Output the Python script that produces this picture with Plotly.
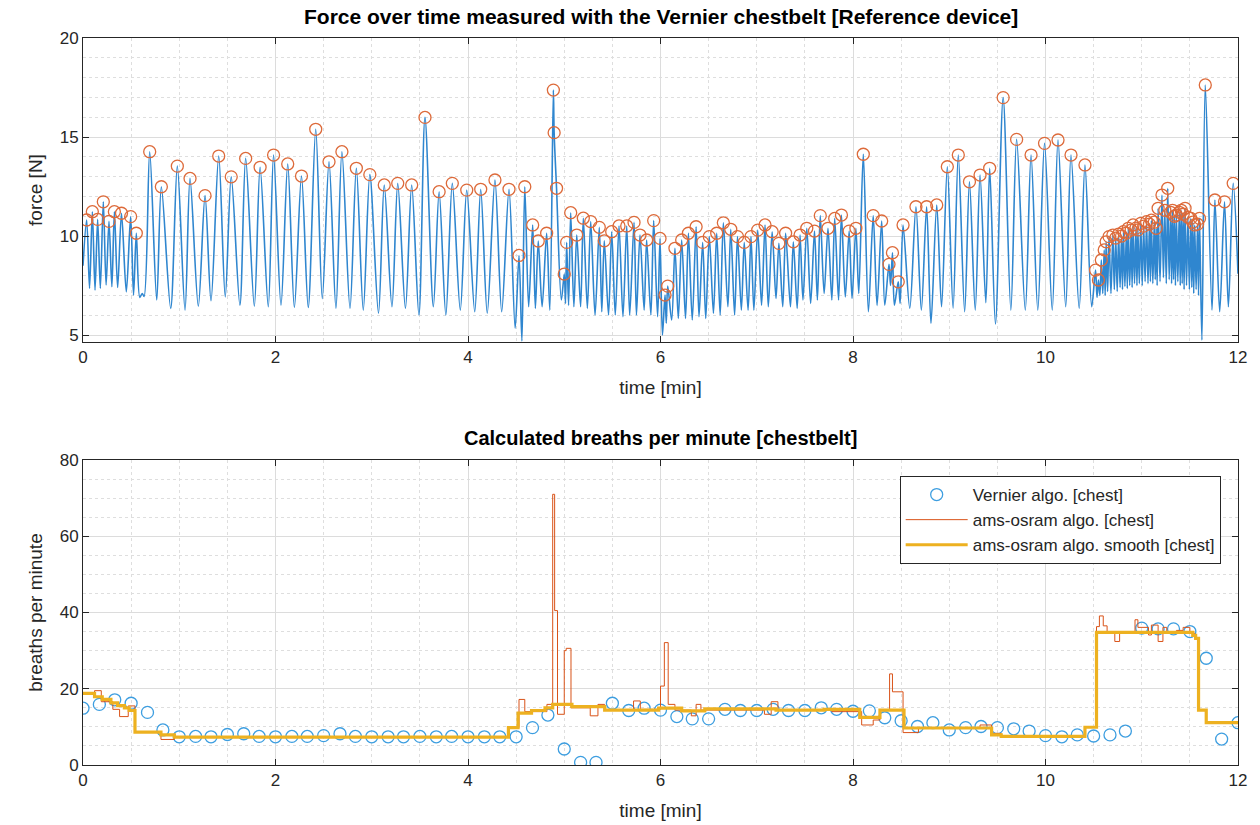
import plotly.graph_objects as go

# ---------------- Top chart: force signal (peaks and valleys) ----------------
peak_t = [0.038, 0.097, 0.152, 0.211, 0.27, 0.326, 0.40, 0.495, 0.554, 0.693, 0.814, 0.98, 1.112, 1.268,
          1.41, 1.54, 1.69, 1.84, 1.98, 2.127, 2.27, 2.418, 2.556, 2.69, 2.84, 2.98, 3.13, 3.27, 3.415,
          3.553, 3.70, 3.837, 3.987, 4.132, 4.28, 4.426, 4.53, 4.59, 4.672, 4.73, 4.817, 4.887, 4.895,
          4.92, 5.0, 5.025, 5.067, 5.13, 5.198, 5.275, 5.364, 5.416, 5.493, 5.569, 5.649, 5.725, 5.787,
          5.856, 5.929, 5.995, 6.047, 6.075, 6.15, 6.22, 6.29, 6.37, 6.438, 6.507, 6.584, 6.653, 6.73,
          6.80, 6.87, 6.94, 7.01, 7.086, 7.16, 7.23, 7.30, 7.38, 7.45, 7.52, 7.60, 7.66, 7.74, 7.81, 7.88,
          7.96, 8.03, 8.107, 8.21, 8.298, 8.374, 8.41, 8.47, 8.52, 8.654, 8.765, 8.87, 8.98, 9.094, 9.21,
          9.32, 9.42, 9.56, 9.70, 9.85, 9.99, 10.13, 10.265, 10.41,
          10.52, 10.55, 10.58, 10.61, 10.63, 10.66, 10.70, 10.73, 10.76, 10.79, 10.81, 10.84, 10.86,
          10.89, 10.91, 10.94, 10.96, 10.99, 11.02, 11.05, 11.08, 11.10, 11.13, 11.15, 11.17, 11.21,
          11.24, 11.27, 11.30, 11.32, 11.34, 11.36, 11.39, 11.41, 11.43, 11.45, 11.48, 11.51, 11.53,
          11.55, 11.58, 11.60, 11.66, 11.76, 11.86, 11.95]
peak_v = [10.81, 11.23, 10.84, 11.73, 10.74, 11.23, 11.15, 10.98, 10.14, 14.26, 12.49, 13.53, 12.91, 12.04,
          14.04, 12.99, 13.92, 13.47, 14.09, 13.64, 13.03, 15.39, 13.75, 14.26, 13.42, 13.10, 12.58, 12.66,
          12.58, 15.99, 12.24, 12.66, 12.32, 12.36, 12.83, 12.36, 9.02, 12.49, 10.56, 9.75, 10.14, 17.37,
          15.22, 12.41, 8.08, 9.68, 11.18, 10.05, 10.90, 10.73, 10.44, 9.76, 10.22, 10.51, 10.51, 10.69,
          10.05, 9.80, 10.78, 9.88, 7.02, 7.47, 9.38, 9.80, 10.14, 10.47, 9.68, 9.97, 10.14, 10.67, 10.34,
          9.97, 9.68, 9.97, 10.30, 10.56, 10.22, 9.63, 10.14, 9.71, 10.05, 10.39, 10.25, 11.03, 10.39,
          10.89, 11.06, 10.25, 10.39, 14.13, 11.03, 10.76, 8.57, 9.16, 7.69, 10.56, 11.48, 11.48, 11.57,
          13.50, 14.09, 12.74, 13.08, 13.42, 16.99, 14.88, 14.09, 14.68, 14.85, 14.09, 13.59,
          8.28, 7.78, 8.79, 9.30, 9.71, 9.97, 10.05, 9.90, 10.10, 10.00, 10.22, 10.15, 10.39,
          10.30, 10.56, 10.40, 10.31, 10.64, 10.50, 10.73, 10.60, 10.80, 10.70, 10.39, 11.40, 12.07,
          11.30, 12.41, 11.20, 11.30, 11.00, 11.06, 11.20, 11.30, 11.10, 11.40, 10.95, 10.89, 10.70,
          10.56, 10.60, 10.89, 17.63, 11.82, 11.73, 12.66]

valley_t = [0.0, 0.068, 0.125, 0.18, 0.24, 0.30, 0.36, 0.45, 0.525, 0.59, 0.615, 0.635, 0.766, 0.911, 1.06,
            1.198, 1.33, 1.478, 1.63, 1.78, 1.925, 2.057, 2.196, 2.34, 2.486, 2.628, 2.774, 2.912, 3.07,
            3.21, 3.35, 3.49, 3.64, 3.77, 3.92, 4.07, 4.20, 4.35, 4.49, 4.56, 4.63, 4.70, 4.77, 4.85, 4.97,
            5.013, 5.045, 5.10, 5.17, 5.24, 5.32, 5.39, 5.46, 5.53, 5.61, 5.68, 5.75, 5.83, 5.90, 5.97,
            6.02, 6.06, 6.116, 6.185, 6.26, 6.33, 6.40, 6.47, 6.55, 6.62, 6.70, 6.77, 6.84, 6.91, 6.97,
            7.05, 7.12, 7.20, 7.27, 7.35, 7.42, 7.48, 7.56, 7.63, 7.70, 7.78, 7.85, 7.92, 7.99, 8.06, 8.16,
            8.25, 8.33, 8.39, 8.43, 8.49, 8.59, 8.71, 8.81, 8.92, 9.04, 9.16, 9.27, 9.38, 9.48, 9.64, 9.79,
            9.92, 10.07, 10.21, 10.35, 10.48,
            10.535, 10.565, 10.595, 10.62, 10.645, 10.68, 10.715, 10.745, 10.775, 10.80, 10.825, 10.85,
            10.875, 10.90, 10.925, 10.95, 10.975, 11.005, 11.035, 11.065, 11.09, 11.115, 11.14, 11.16,
            11.19, 11.225, 11.255, 11.285, 11.31, 11.33, 11.35, 11.375, 11.40, 11.42, 11.44, 11.465,
            11.495, 11.52, 11.54, 11.565, 11.59, 11.625, 11.73, 11.81, 11.90, 12.0]
valley_v = [8.5, 7.36, 7.27, 7.36, 7.53, 7.44, 7.40, 7.18, 7.02, 6.9, 7.1, 6.95, 6.77, 6.35, 6.26,
            6.46, 6.73, 6.93, 6.51, 6.46, 6.43, 6.51, 6.39, 6.39, 6.85, 6.35, 6.35, 6.26, 6.10,
            6.43, 6.35, 6.01, 6.43, 6.01, 6.26, 6.18, 6.10, 6.18, 5.35, 4.70, 6.43, 6.35, 6.43, 6.26, 6.77,
            6.60, 6.50, 6.43, 6.43, 6.35, 6.01, 6.18, 6.01, 6.01, 5.93, 6.01, 6.01, 6.26, 6.01, 5.93,
            5.00, 5.60, 5.76, 5.84, 5.84, 5.76, 5.93, 5.84, 6.10, 6.01, 6.43, 6.01, 6.26, 6.26, 6.26,
            6.51, 6.43, 6.85, 6.43, 6.43, 6.35, 6.77, 6.60, 6.77, 7.10, 6.77, 6.77, 6.93, 6.85, 7.10, 6.18,
            6.50, 6.51, 7.50, 6.51, 6.60, 6.35, 6.26, 5.59, 6.43, 6.36, 6.18, 6.26, 6.64, 5.56, 6.26, 6.26,
            6.26, 6.26, 6.43, 6.35, 6.43,
            6.9, 7.0, 7.1, 7.0, 7.2, 7.1, 7.3, 7.2, 7.4, 7.3, 7.45, 7.35,
            7.5, 7.4, 7.6, 7.5, 7.6, 7.5, 7.7, 7.6, 7.7, 7.6, 7.8, 7.5,
            7.7, 7.9, 7.6, 7.8, 7.6, 7.8, 7.5, 7.7, 7.5, 7.6, 7.3, 7.5,
            7.3, 7.4, 7.1, 7.3, 7.0, 4.75, 6.26, 6.18, 6.43, 8.1]

# ---------------- Bottom chart: breaths per minute ----------------
vern_t = [0.00, 0.17, 0.33, 0.50, 0.67, 0.83, 1.00, 1.17, 1.33, 1.50, 1.67, 1.83, 2.00, 2.17, 2.33, 2.50,
          2.67, 2.83, 3.00, 3.17, 3.33, 3.50, 3.67, 3.83, 4.00, 4.17, 4.33, 4.50, 4.67, 4.83, 5.00, 5.17,
          5.33, 5.50, 5.67, 5.83, 6.00, 6.17, 6.33, 6.50, 6.67, 6.83, 7.00, 7.17, 7.33, 7.50, 7.67, 7.83,
          8.00, 8.17, 8.33, 8.50, 8.67, 8.83, 9.00, 9.17, 9.33, 9.50, 9.67, 9.83, 10.00, 10.17, 10.33,
          10.50, 10.67, 10.83, 11.00, 11.17, 11.33, 11.50, 11.67, 11.83, 12.00]
vern_v = [14.9, 15.9, 17.1, 16.2, 13.8, 9.2, 7.4, 7.5, 7.4, 8.0, 8.2, 7.5, 7.4, 7.5, 7.5, 7.7,
          8.2, 7.5, 7.4, 7.4, 7.4, 7.5, 7.4, 7.5, 7.4, 7.4, 7.4, 7.4, 9.8, 13.1, 4.2, 0.7,
          0.7, 16.2, 14.3, 14.9, 14.4, 12.7, 12.1, 12.1, 14.6, 14.3, 14.3, 14.6, 14.3, 14.3, 15.0, 14.6,
          14.1, 14.2, 12.4, 11.6, 10.1, 11.1, 9.2, 9.8, 10.1, 9.8, 9.5, 8.9, 7.7, 7.4, 7.9,
          7.6, 7.9, 8.9, 35.9, 35.7, 35.7, 35.0, 28.0, 6.8, 11.1]

raw_t = [0.00, 0.12, 0.19, 0.31, 0.38, 0.47, 0.54, 0.81, 0.95, 4.42, 4.53, 4.59, 4.82, 4.88, 4.90, 4.93,
         5.00, 5.02, 5.07, 5.27, 5.35, 5.42, 5.72, 5.79, 6.00, 6.04, 6.08, 6.15, 6.32, 6.37, 6.42, 7.08,
         7.15, 7.22, 7.78, 8.09, 8.21, 8.28, 8.38, 8.41, 8.52, 8.68, 9.32, 9.44, 9.54, 10.41, 10.53,
         10.56, 10.60, 10.64, 10.72, 10.77, 10.93, 10.96, 11.07, 11.10, 11.17, 11.22, 11.26, 11.36,
         11.43, 11.50, 11.55, 11.59, 11.67, 12.00]
raw_v = [18.6, 19.5, 16.6, 14.6, 12.7, 15.5, 8.6, 6.7, 7.3, 9.8, 17.2, 14.0, 15.9, 71.0, 40.5, 13.3,
         30.0, 30.6, 15.0, 12.9, 15.9, 14.4, 16.8, 14.6, 20.7, 32.1, 15.9, 14.4, 12.9, 15.9, 14.4, 13.3,
         16.6, 14.4, 14.0, 10.5, 11.8, 14.4, 23.9, 19.2, 8.5, 9.7, 10.5, 8.3, 7.6, 9.9, 36.3,
         39.1, 36.5, 35.0, 32.4, 35.0, 38.1, 36.1, 34.1, 36.7, 32.4, 36.1, 34.6, 35.3,
         36.1, 34.6, 33.2, 14.4, 11.4, 11.4]

smooth_t = [0.00, 0.12, 0.20, 0.29, 0.36, 0.43, 0.48, 0.54, 0.81, 0.95, 4.42, 4.52, 4.66, 4.80, 4.88, 5.08,
            5.42, 5.98, 6.22, 6.46, 7.20, 7.70, 8.07, 8.28, 8.53, 9.44, 9.54, 10.41, 10.53, 11.53, 11.56,
            11.59, 11.67, 12.00]
smooth_v = [18.8, 17.9, 17.2, 16.3, 15.6, 15.0, 14.3, 8.6, 7.9, 7.3, 9.8, 13.6, 14.3, 15.0, 15.9, 15.3,
            14.4, 14.9, 14.2, 14.7, 14.4, 14.6, 12.5, 14.4, 9.7, 7.9, 7.5, 9.9, 34.8, 34.0, 33.2,
            14.4, 11.1, 11.1]

top_title = "Force over time measured with the Vernier chestbelt [Reference device]"
bottom_title = "Calculated breaths per minute [chestbelt]"

# merge peaks and valleys into one time-ordered polyline
samples = sorted(list(zip(peak_t, peak_v)) + list(zip(valley_t, valley_v)))
force_t = [s[0] for s in samples]
force_v = [s[1] for s in samples]

FONT = "Liberation Sans, Arial, sans-serif"
AX = "#262626"

fig = go.Figure()
fig.add_trace(go.Scatter(x=force_t, y=force_v, mode="lines",
                         line=dict(color="#2f86cf", width=1.6, shape="spline", smoothing=0.9),
                         xaxis="x", yaxis="y", showlegend=False, hoverinfo="skip"))
fig.add_trace(go.Scatter(x=peak_t, y=peak_v, mode="markers",
                         marker=dict(symbol="circle-open", size=12, color="#DD6a3a", line=dict(width=1.3)),
                         xaxis="x", yaxis="y", showlegend=False))

fig.add_trace(go.Scatter(x=vern_t, y=vern_v, mode="markers", name="Vernier algo. [chest]",
                         marker=dict(symbol="circle-open", size=12, color="#3d9ee0", line=dict(width=1.3)),
                         xaxis="x2", yaxis="y2"))
fig.add_trace(go.Scatter(x=raw_t, y=raw_v, mode="lines", name="ams-osram algo. [chest]",
                         line=dict(color="#D95319", width=1, shape="hv"), xaxis="x2", yaxis="y2"))
fig.add_trace(go.Scatter(x=smooth_t, y=smooth_v, mode="lines", name="ams-osram algo. smooth [chest]",
                         line=dict(color="#EDB120", width=3.2, shape="hv"), xaxis="x2", yaxis="y2"))

common = dict(showline=True, linecolor=AX, linewidth=1, mirror="ticks", ticks="inside", ticklen=6,
              tickcolor=AX, showgrid=True, gridcolor="#dcdcdc", gridwidth=1, zeroline=False,
              tickfont=dict(size=17, color=AX, family=FONT),
              minor=dict(showgrid=True, gridcolor="#dedede", griddash="dot", gridwidth=1, ticks=""))

top_dom = [(765 - 342) / 727, 1.0]
bot_dom = [0.0, (765 - 460) / 727]
TFONT = dict(size=19, color=AX, family=FONT)

fig.update_layout(
    width=1260, height=825,
    margin=dict(l=83, r=22, t=38, b=60, autoexpand=False),
    paper_bgcolor="white", plot_bgcolor="white",
    font=dict(family=FONT, color=AX),
    xaxis=dict(common, domain=[0, 1], anchor="y", range=[0, 12], dtick=2, tick0=0,
               minor=dict(common["minor"], dtick=0.5),
               title=dict(text="time [min]", font=TFONT, standoff=14)),
    yaxis=dict(common, domain=top_dom, anchor="x", range=[4.65, 20], dtick=5, tick0=0,
               minor=dict(common["minor"], dtick=1),
               title=dict(text="force [N]", font=TFONT, standoff=12)),
    xaxis2=dict(common, domain=[0, 1], anchor="y2", range=[0, 12], dtick=2, tick0=0,
                minor=dict(common["minor"], dtick=0.5),
                title=dict(text="time [min]", font=TFONT, standoff=14)),
    yaxis2=dict(common, domain=bot_dom, anchor="x2", range=[0, 80], dtick=20, tick0=0,
                minor=dict(common["minor"], dtick=5),
                title=dict(text="breaths per minute", font=TFONT, standoff=12)),
    legend=dict(x=0.985, xanchor="right", y=(765 - 476) / 727, yanchor="top",
                bgcolor="white", bordercolor="#262626", borderwidth=1,
                font=dict(size=17, color=AX, family=FONT), itemwidth=62, tracegroupgap=0),
    annotations=[
        dict(text="<b>" + top_title + "</b>", x=0.5, xref="paper", y=(765 - 17) / 727, yref="paper",
             showarrow=False, font=dict(size=21, color="black", family=FONT), yanchor="middle"),
        dict(text="<b>" + bottom_title + "</b>", x=0.5, xref="paper", y=(765 - 438) / 727, yref="paper",
             showarrow=False, font=dict(size=20, color="black", family=FONT), yanchor="middle"),
    ],
)

fig.write_html("out.html", config={"displayModeBar": False},
               post_script="document.body.style.margin='0';document.body.style.overflow='hidden';")
